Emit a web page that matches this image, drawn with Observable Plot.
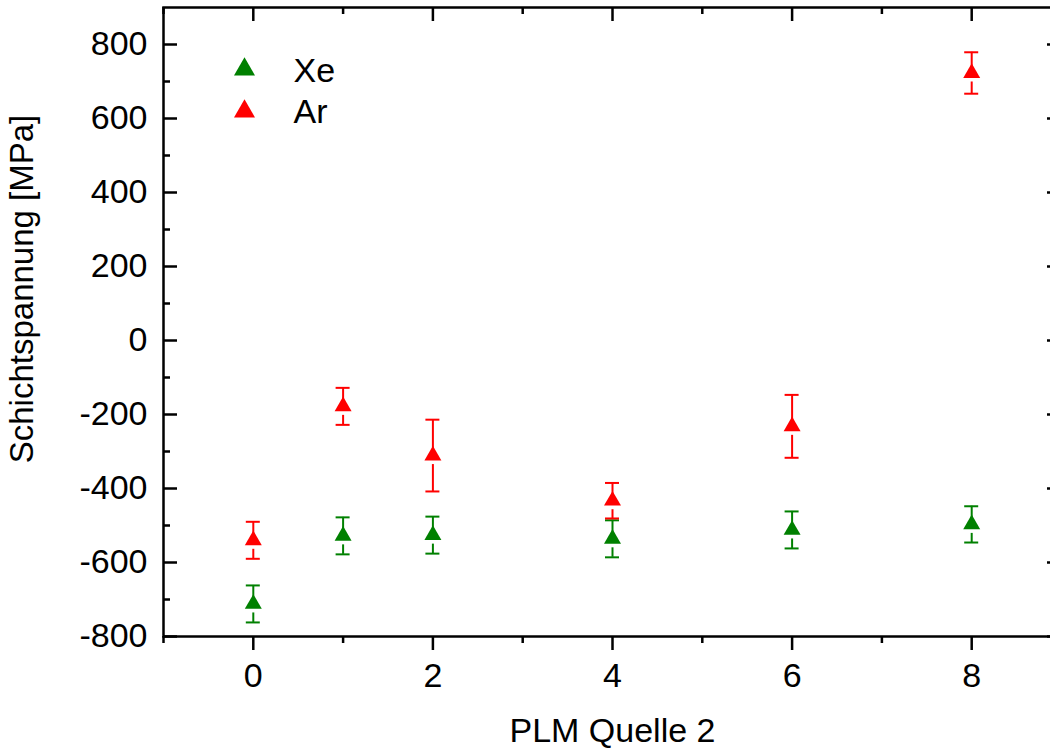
<!DOCTYPE html>
<html>
<head>
<meta charset="utf-8">
<script src="https://cdn.jsdelivr.net/npm/d3@7"></script>
<script src="https://cdn.jsdelivr.net/npm/@observablehq/plot@0.6"></script>
<style>
html, body { margin: 0; padding: 0; background: #fff; overflow: hidden; }
</style>
</head>
<body>
<div id="chart"></div>
<script>
// ---- data ----
const positions = [0, 1, 2, 4, 6, 8];
const xeStress = [-712, -528, -526, -536, -512, -497];
const xeError = [50, 50, 50, 50, 50, 49];
const arStress = [-540, -178, -311, -433, -232, 723];
const arError = [50, 50, 97, 48, 85, 56];
const seriesNames = ["Xe", "Ar"];
const seriesColors = ["#008000", "#ff0000"];
const xMajorTicks = [0, 2, 4, 6, 8];
const xMinorTicks = [-1, 1, 3, 5, 7, 9];
const yMajorTicks = [-800, -600, -400, -200, 0, 200, 400, 600, 800];
const yMinorTicks = [-700, -500, -300, -100, 100, 300, 500, 700];
const xDomain = [-1, 9];
const yDomain = [-800, 900];
const xTitle = "PLM Quelle 2";
const yTitle = "Schichtspannung [MPa]";

const rows = [
  ...positions.map((p, i) => ({series: "Xe", x: p, y: xeStress[i], err: xeError[i]})),
  ...positions.map((p, i) => ({series: "Ar", x: p, y: arStress[i], err: arError[i]}))
];

const FS = 34;
const tickW = 2.5;

const chart = Plot.plot({
  width: 1050,
  height: 750,
  marginLeft: 163,
  marginRight: -11,
  marginTop: 7,
  marginBottom: 114,
  style: {fontFamily: "'Liberation Sans', Arial, sans-serif", fontSize: FS + "px", background: "white", color: "black"},
  x: {domain: xDomain, axis: null},
  y: {domain: yDomain, axis: null},
  color: {domain: seriesNames, range: seriesColors},
  marks: [
    // frame
    Plot.frame({strokeWidth: tickW}),
    // left ticks (inward)
    Plot.ruleY(yMajorTicks, {y: d => d, x1: () => xDomain[0], x2: () => xDomain[0], insetRight: -14, strokeWidth: tickW}),
    Plot.ruleY(yMinorTicks, {y: d => d, x1: () => xDomain[0], x2: () => xDomain[0], insetRight: -7, strokeWidth: tickW}),
    // right ticks (inward)
    Plot.ruleY(yMajorTicks, {y: d => d, x1: () => xDomain[1], x2: () => xDomain[1], insetLeft: -14, strokeWidth: tickW}),
    Plot.ruleY(yMinorTicks, {y: d => d, x1: () => xDomain[1], x2: () => xDomain[1], insetLeft: -7, strokeWidth: tickW}),
    // top ticks (inward)
    Plot.ruleX(xMajorTicks, {x: d => d, y1: () => yDomain[1], y2: () => yDomain[1], insetBottom: -14, strokeWidth: tickW}),
    Plot.ruleX(xMinorTicks, {x: d => d, y1: () => yDomain[1], y2: () => yDomain[1], insetBottom: -7, strokeWidth: tickW}),
    // bottom ticks (outward)
    Plot.ruleX(xMajorTicks, {x: d => d, y1: () => yDomain[0], y2: () => yDomain[0], insetBottom: -14, strokeWidth: tickW}),
    Plot.ruleX(xMinorTicks, {x: d => d, y1: () => yDomain[0], y2: () => yDomain[0], insetBottom: -7, strokeWidth: tickW}),
    // tick labels
    Plot.text(yMajorTicks, {y: d => d, text: d => String(d), frameAnchor: "left", textAnchor: "end", dx: -16, fontSize: FS}),
    Plot.text(xMajorTicks, {x: d => d, text: d => String(d), frameAnchor: "bottom", lineAnchor: "top", dy: 26, fontSize: FS}),
    // axis titles
    Plot.text([xTitle], {text: d => d, frameAnchor: "bottom", textAnchor: "middle", lineAnchor: "middle", dy: 95, fontSize: FS}),
    Plot.text([yTitle], {text: d => d, frameAnchor: "left", textAnchor: "middle", lineAnchor: "middle", rotate: -90, dx: -141, dy: -33, fontSize: 33}),
    // error bars: upper segment
    Plot.ruleX(rows, {x: "x", y1: d => d.y + d.err, y2: "y", stroke: "series", strokeWidth: 2}),
    // lower segment (gap below marker)
    Plot.ruleX(rows, {x: "x", y1: "y", y2: d => d.y - d.err, insetTop: 9, stroke: "series", strokeWidth: 2}),
    // caps
    Plot.ruleY(rows, {y: d => d.y + d.err, x1: "x", x2: "x", insetLeft: -7, insetRight: -7, stroke: "series", strokeWidth: 2}),
    Plot.ruleY(rows, {y: d => d.y - d.err, x1: "x", x2: "x", insetLeft: -7, insetRight: -7, stroke: "series", strokeWidth: 2}),
    // markers
    Plot.dot(rows, {x: "x", y: "y", fill: "series", symbol: "triangle", r: 6.3}),
    // legend
    Plot.dot([seriesNames[0]], {frameAnchor: "top-left", dx: 81, dy: 62, fill: d => d, symbol: "triangle", r: 7.8}),
    Plot.dot([seriesNames[1]], {frameAnchor: "top-left", dx: 81, dy: 104, fill: d => d, symbol: "triangle", r: 7.8}),
    Plot.text([seriesNames[0]], {text: d => d, frameAnchor: "top-left", textAnchor: "start", lineAnchor: "middle", dx: 130, dy: 64, fontSize: FS}),
    Plot.text([seriesNames[1]], {text: d => d, frameAnchor: "top-left", textAnchor: "start", lineAnchor: "middle", dx: 130, dy: 105, fontSize: FS})
  ]
});
document.getElementById("chart").appendChild(chart);
</script>
</body>
</html>
